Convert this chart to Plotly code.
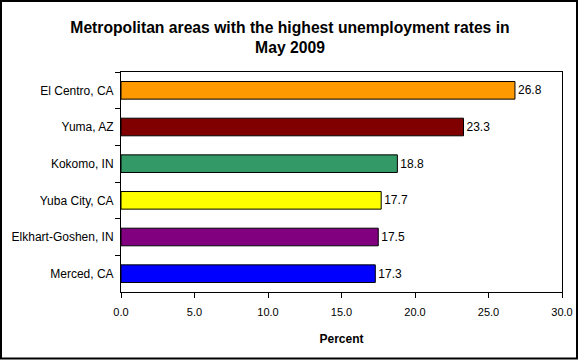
import plotly.graph_objects as go

areas = ["El Centro, CA", "Yuma, AZ", "Kokomo, IN", "Yuba City, CA", "Elkhart-Goshen, IN", "Merced, CA"]
rates = [26.8, 23.3, 18.8, 17.7, 17.5, 17.3]
colors = ["#FF9900", "#800000", "#339966", "#FFFF00", "#800080", "#0000FF"]
x_ticks = [0, 5, 10, 15, 20, 25, 30]
x_tick_labels = ["0.0", "5.0", "10.0", "15.0", "20.0", "25.0", "30.0"]

W, H = 580, 360
L, R, T, B = 121, 18, 72, 68

fig = go.Figure(go.Bar(
    x=rates, y=areas, orientation="h",
    marker=dict(color=colors, line=dict(color="black", width=1)),
    text=[f"{v:.1f}" for v in rates], textposition="outside",
    textfont=dict(family="Liberation Sans", size=12, color="black"),
    cliponaxis=False,
))

pw = W - L - R
ph = H - T - B
fig.update_layout(
    width=W, height=H,
    margin=dict(l=L, r=R, t=T, b=B, pad=0),
    paper_bgcolor="white", plot_bgcolor="white",
    bargap=0.52,
    showlegend=False,
    font=dict(family="Liberation Sans", size=11, color="black"),
    title=dict(
        text="<b>Metropolitan areas with the highest unemployment rates in<br>May 2009</b>",
        x=0.5, xanchor="center", y=1 - 33 / H, yanchor="top",
        font=dict(family="Liberation Sans", size=15.7, color="black"),
    ),
    xaxis=dict(
        range=[0, 30], tickvals=x_ticks, ticktext=x_tick_labels,
        showgrid=False, zeroline=False, automargin=False,
        showline=True, linecolor="black", linewidth=1, mirror=True,
        ticks="outside", ticklen=5, tickcolor="black", ticklabelstandoff=5,
        title=dict(text="<b>Percent</b>", standoff=17,
                   font=dict(family="Liberation Sans", size=12, color="black")),
        tickfont=dict(size=11),
    ),
    yaxis=dict(
        categoryorder="array", categoryarray=areas, autorange="reversed",
        showgrid=False, zeroline=False, automargin=False,
        showline=True, linecolor="black", linewidth=1, mirror=True,
        ticks="outside", ticklen=5, tickcolor="black", tickson="boundaries",
        tickfont=dict(size=12), ticklabelstandoff=4,
    ),
    shapes=[dict(
        type="rect", xref="paper", yref="paper",
        x0=(1 - L) / pw, x1=(577 - L) / pw,
        y0=-(B - 1.5) / ph, y1=1 + (T - 1) / ph,
        line=dict(color="black", width=2), fillcolor="rgba(0,0,0,0)",
    )],
)

fig.write_html(
    "out.html",
    config={"displayModeBar": False},
    post_script="document.body.style.margin='0';document.body.style.overflow='hidden';",
)
